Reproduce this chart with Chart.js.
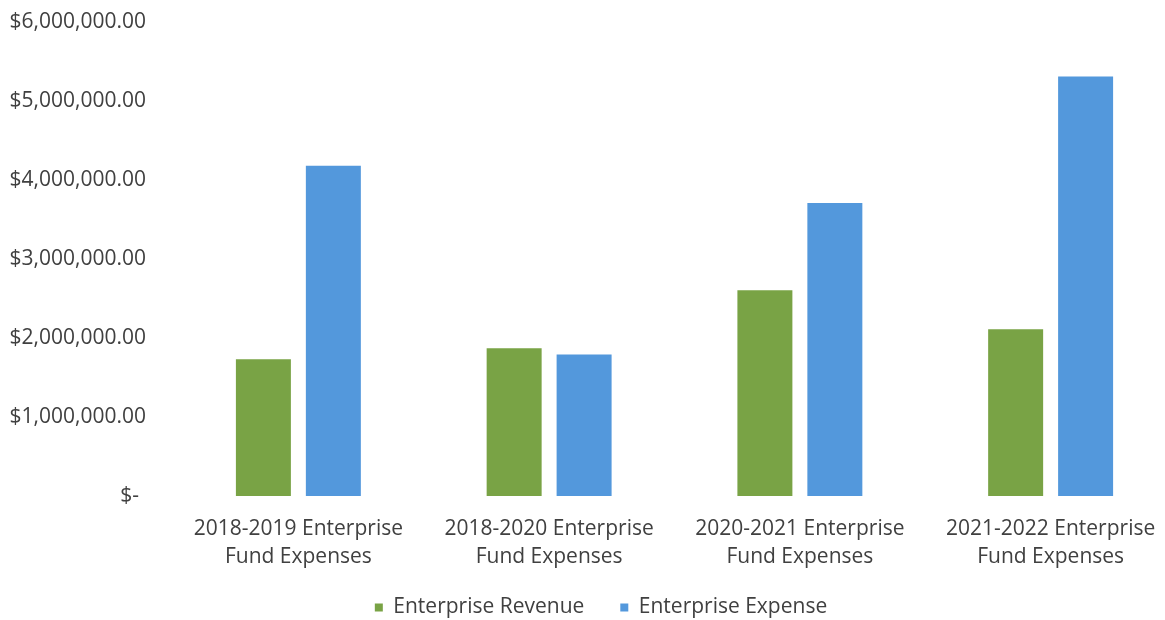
<!DOCTYPE html>
<html lang="en">
<head>
  <meta charset="UTF-8">
  <title>Enterprise Fund</title>
  <script src="https://cdn.jsdelivr.net/npm/chart.js"></script>
  <style>
    html, body {
      margin: 0;
      padding: 0;
      background: #ffffff;
      overflow: hidden;
    }
    #wrap {
      width: 1180px;
      height: 628px;
    }
  </style>
</head>
<body>
  <div id="wrap"><canvas id="fundChart" width="1180" height="628"></canvas></div>

  <script>
    const categories = [
      ['2018-2019 Enterprise', 'Fund Expenses'],
      ['2018-2020 Enterprise', 'Fund Expenses'],
      ['2020-2021 Enterprise', 'Fund Expenses'],
      ['2021-2022 Enterprise', 'Fund Expenses']
    ];
    const revenue = [1730000, 1870000, 2605000, 2110000];
    const expense = [4180000, 1790000, 3710000, 5310000];
    const seriesNames = ['Enterprise Revenue', 'Enterprise Expense'];

    const textColor = '#404040';
    const fontFamily = '"Open Sans", "Noto Sans", sans-serif';

    function money(v) {
      if (v === 0) return '$-\u2009\u2009';
      return '$' + v.toLocaleString('en-US', { minimumFractionDigits: 2, maximumFractionDigits: 2 });
    }

    // labels may run outside the axis box, don't clip them
    function noLabelClip(scale) {
      scale._computeLabelArea = function () { return undefined; };
    }

    const ctx = document.getElementById('fundChart').getContext('2d');
    new Chart(ctx, {
      type: 'bar',
      data: {
        labels: categories,
        datasets: [
          {
            label: seriesNames[0],
            data: revenue,
            backgroundColor: '#79a345'
          },
          {
            label: seriesNames[1],
            data: expense,
            backgroundColor: '#5398dc'
          }
        ]
      },
      options: {
        responsive: false,
        animation: false,
        devicePixelRatio: 1,
        layout: {
          padding: { left: 26, right: 4, top: 22, bottom: 0 }
        },
        datasets: {
          bar: {
            categoryPercentage: 0.558,
            barPercentage: 0.786
          }
        },
        plugins: {
          legend: {
            position: 'bottom',
            labels: {
              color: textColor,
              boxWidth: 8,
              boxHeight: 8,
              padding: 36,
              font: { family: fontFamily, size: 21 }
            }
          },
          tooltip: { enabled: false }
        },
        scales: {
          x: {
            grid: { display: false, drawTicks: false },
            border: { display: false },
            afterFit: function (scale) {
              scale.height -= 29;
              noLabelClip(scale);
            },
            ticks: {
              color: textColor,
              padding: 19,
              maxRotation: 0,
              autoSkip: false,
              font: { family: fontFamily, size: 21, lineHeight: 1.333 }
            }
          },
          y: {
            min: 0,
            max: 6000000,
            grid: { display: false, drawTicks: false },
            border: { display: false },
            afterFit: function (scale) {
              scale.width = 147;
              scale.paddingTop = 0;
              scale.paddingBottom = 0;
              noLabelClip(scale);
            },
            ticks: {
              stepSize: 1000000,
              color: textColor,
              padding: 27,
              callback: money,
              font: { family: fontFamily, size: 21 }
            }
          }
        }
      }
    });
  </script>
</body>
</html>
